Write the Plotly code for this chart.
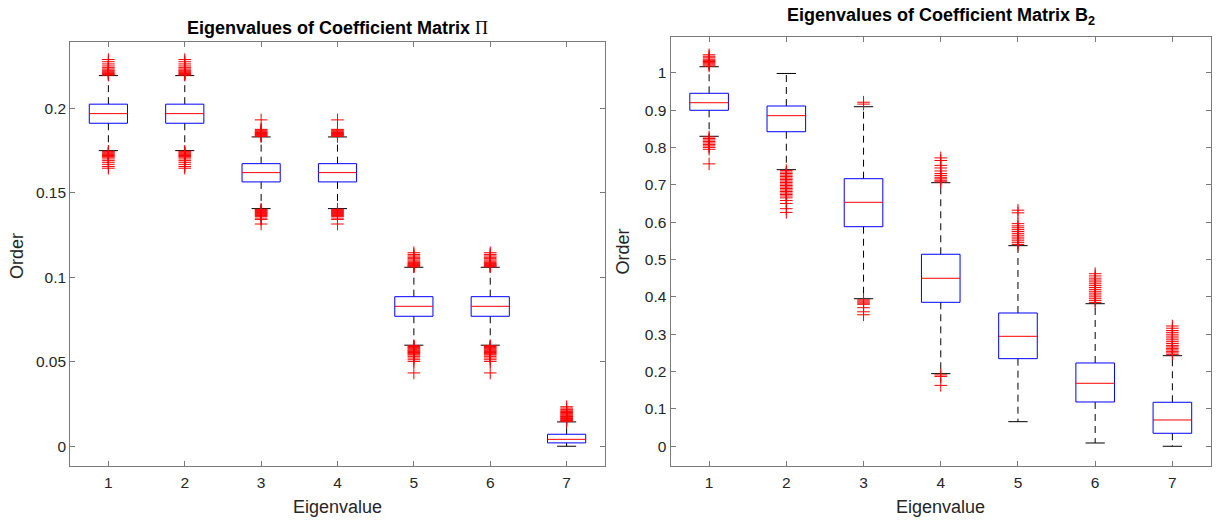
import plotly.graph_objects as go

# ---------------- data ----------------
categories = [1, 2, 3, 4, 5, 6, 7]
tick_labels = ["1", "2", "3", "4", "5", "6", "7"]

# Coefficient matrix Pi
pi_q1 = [0.1911, 0.1911, 0.1564, 0.1564, 0.0769, 0.0769, 0.0020]
pi_med = [0.1968, 0.1968, 0.1619, 0.1619, 0.0828, 0.0828, 0.0041]
pi_q3 = [0.2024, 0.2024, 0.1672, 0.1672, 0.0885, 0.0885, 0.0071]
pi_lo = [0.1749, 0.1749, 0.1406, 0.1406, 0.0598, 0.0598, 0.0000]
pi_hi = [0.2193, 0.2193, 0.1830, 0.1830, 0.1059, 0.1059, 0.0144]
pi_out_hi = [
    [0.2196, 0.2200, 0.2205, 0.2210, 0.2215, 0.2220, 0.2225, 0.2232, 0.2240, 0.2250, 0.2262, 0.2275, 0.2288],
    [0.2196, 0.2200, 0.2205, 0.2210, 0.2215, 0.2220, 0.2225, 0.2232, 0.2240, 0.2250, 0.2262, 0.2275, 0.2288],
    [0.1833, 0.1836, 0.1840, 0.1843, 0.1846, 0.1850, 0.1853, 0.1857, 0.1860, 0.1865, 0.1870, 0.1875, 0.1931],
    [0.1833, 0.1836, 0.1840, 0.1843, 0.1846, 0.1850, 0.1853, 0.1857, 0.1860, 0.1865, 0.1870, 0.1875, 0.1931],
    [0.1062, 0.1066, 0.1070, 0.1074, 0.1078, 0.1082, 0.1088, 0.1095, 0.1102, 0.1110, 0.1118, 0.1126, 0.1135, 0.1145],
    [0.1062, 0.1066, 0.1070, 0.1074, 0.1078, 0.1082, 0.1088, 0.1095, 0.1102, 0.1110, 0.1118, 0.1126, 0.1135, 0.1145],
    [0.0148, 0.0152, 0.0156, 0.0160, 0.0164, 0.0168, 0.0172, 0.0176, 0.0180, 0.0185, 0.0190, 0.0195, 0.0200, 0.0205, 0.0210, 0.0218, 0.0226, 0.0234],
]
pi_out_lo = [
    [0.1745, 0.1740, 0.1735, 0.1730, 0.1725, 0.1720, 0.1715, 0.1710, 0.1700, 0.1690, 0.1680, 0.1668, 0.1655, 0.1645],
    [0.1745, 0.1740, 0.1735, 0.1730, 0.1725, 0.1720, 0.1715, 0.1710, 0.1700, 0.1690, 0.1680, 0.1668, 0.1655, 0.1645],
    [0.1402, 0.1398, 0.1394, 0.1390, 0.1386, 0.1382, 0.1378, 0.1374, 0.1370, 0.1365, 0.1360, 0.1350, 0.1342, 0.1315],
    [0.1402, 0.1398, 0.1394, 0.1390, 0.1386, 0.1382, 0.1378, 0.1374, 0.1370, 0.1365, 0.1360, 0.1350, 0.1342, 0.1315],
    [0.0595, 0.0590, 0.0585, 0.0580, 0.0575, 0.0570, 0.0565, 0.0560, 0.0555, 0.0550, 0.0545, 0.0540, 0.0532, 0.0522, 0.0512, 0.0502, 0.0434],
    [0.0595, 0.0590, 0.0585, 0.0580, 0.0575, 0.0570, 0.0565, 0.0560, 0.0555, 0.0550, 0.0545, 0.0540, 0.0532, 0.0522, 0.0512, 0.0502, 0.0434],
    [],
]

# Coefficient matrix B2
b2_q1 = [0.8994, 0.8420, 0.5878, 0.3854, 0.2345, 0.1186, 0.0348]
b2_med = [0.9197, 0.8850, 0.6531, 0.4497, 0.2944, 0.1686, 0.0704]
b2_q3 = [0.9449, 0.9109, 0.7163, 0.5140, 0.3568, 0.2230, 0.1178]
b2_lo = [0.8298, 0.7404, 0.3950, 0.1944, 0.0659, 0.0088, 0.0000]
b2_hi = [1.0160, 0.9980, 0.9090, 0.7056, 0.5370, 0.3817, 0.2425]
b2_out_hi = [
    [1.018, 1.021, 1.024, 1.027, 1.030, 1.033, 1.036, 1.040, 1.044, 1.048],
    [],
    [0.916, 0.921],
    [0.708, 0.712, 0.716, 0.720, 0.725, 0.730, 0.737, 0.745, 0.752, 0.765, 0.772],
    [0.540, 0.545, 0.550, 0.555, 0.560, 0.565, 0.570, 0.575, 0.580, 0.585, 0.590, 0.596, 0.625, 0.632],
    [0.385, 0.390, 0.395, 0.400, 0.405, 0.410, 0.415, 0.420, 0.425, 0.430, 0.435, 0.440, 0.445, 0.450, 0.456, 0.462],
    [0.246, 0.250, 0.254, 0.258, 0.262, 0.266, 0.270, 0.275, 0.280, 0.285, 0.290, 0.295, 0.300, 0.305, 0.310, 0.316, 0.322],
]
b2_out_lo = [
    [0.828, 0.824, 0.820, 0.816, 0.812, 0.808, 0.804, 0.800, 0.795, 0.756],
    [0.738, 0.734, 0.730, 0.726, 0.722, 0.718, 0.714, 0.710, 0.706, 0.702, 0.698, 0.694, 0.690,
     0.686, 0.682, 0.678, 0.674, 0.670, 0.665, 0.658, 0.650, 0.636, 0.626],
    [0.392, 0.389, 0.386, 0.383, 0.380, 0.371, 0.360, 0.352],
    [0.191, 0.187, 0.163],
    [],
    [],
    [],
]

# ---------------- style ----------------
FONT = "Liberation Sans, Arial, Helvetica, sans-serif"
AX_COL = "#7a7a7a"
TXT_COL = "#262626"
BOX_W = 0.25   # half width of box
CAP_W = 0.125  # half width of whisker cap

W, H = 1225, 521


def px_x(p):
    return p / W


def px_y(p):
    return (H - p) / H


fig = go.Figure()


def add_boxes(xa, ya, q1, med, q3, lo, hi, out_hi, out_lo):
    wx, wy = [], []
    cx, cy = [], []
    bx, by = [], []
    mx, my = [], []
    ox, oy = [], []
    for i, c in enumerate(categories):
        wx += [c, c, None, c, c, None]
        wy += [q3[i], hi[i], None, q1[i], lo[i], None]
        cx += [c - CAP_W, c + CAP_W, None, c - CAP_W, c + CAP_W, None]
        cy += [hi[i], hi[i], None, lo[i], lo[i], None]
        bx += [c - BOX_W, c + BOX_W, c + BOX_W, c - BOX_W, c - BOX_W, None]
        by += [q1[i], q1[i], q3[i], q3[i], q1[i], None]
        mx += [c - BOX_W, c + BOX_W, None]
        my += [med[i], med[i], None]
        for v in out_hi[i] + out_lo[i]:
            ox.append(c)
            oy.append(v)
    common = dict(xaxis=xa, yaxis=ya, mode="lines", showlegend=False, hoverinfo="skip")
    fig.add_trace(go.Scatter(x=wx, y=wy, line=dict(color="black", width=1, dash="7px,5px"), **common))
    fig.add_trace(go.Scatter(x=cx, y=cy, line=dict(color="black", width=1), **common))
    fig.add_trace(go.Scatter(x=bx, y=by, line=dict(color="blue", width=1), **common))
    fig.add_trace(go.Scatter(x=mx, y=my, line=dict(color="red", width=1), **common))
    fig.add_trace(go.Scatter(
        x=ox, y=oy, xaxis=xa, yaxis=ya, mode="markers", showlegend=False, hoverinfo="skip",
        marker=dict(symbol="cross-thin", size=9, line=dict(color="red", width=1), color="red"),
    ))


add_boxes("x", "y", pi_q1, pi_med, pi_q3, pi_lo, pi_hi, pi_out_hi, pi_out_lo)
add_boxes("x2", "y2", b2_q1, b2_med, b2_q3, b2_lo, b2_hi, b2_out_hi, b2_out_lo)

axis_common = dict(
    showgrid=False, zeroline=False, showline=True, linecolor=AX_COL, linewidth=1,
    mirror="ticks", ticks="inside", ticklen=5, tickcolor=AX_COL, tickwidth=1,
    tickfont=dict(family=FONT, size=15.5, color=TXT_COL),
)

L1, R1, T1, B1 = 70.2, 604.8, 42.3, 465.7
L2, R2, T2, B2 = 670.5, 1211.0, 36.7, 465.7

fig.update_layout(
    width=W, height=H, margin=dict(l=0, r=0, t=0, b=0),
    plot_bgcolor="white", paper_bgcolor="white",
    xaxis=dict(domain=[px_x(L1), px_x(R1)], range=[0.5, 7.5], anchor="y",
               tickvals=categories, ticktext=tick_labels, ticklabelstandoff=3, **axis_common),
    yaxis=dict(domain=[px_y(B1), px_y(T1)], range=[-0.0115, 0.239], anchor="x",
               tickvals=[0, 0.05, 0.1, 0.15, 0.2], ticktext=["0", "0.05", "0.1", "0.15", "0.2"],
               **axis_common),
    xaxis2=dict(domain=[px_x(L2), px_x(R2)], range=[0.5, 7.5], anchor="y2",
                tickvals=categories, ticktext=tick_labels, ticklabelstandoff=3, **axis_common),
    yaxis2=dict(domain=[px_y(B2), px_y(T2)], range=[-0.052, 1.0964], anchor="x2",
                tickvals=[0, 0.1, 0.2, 0.3, 0.4, 0.5, 0.6, 0.7, 0.8, 0.9, 1.0],
                ticktext=["0", "0.1", "0.2", "0.3", "0.4", "0.5", "0.6", "0.7", "0.8", "0.9", "1"],
                **axis_common),
)

ann = []
# titles
ann.append(dict(
    text="<b>Eigenvalues of Coefficient Matrix </b><span style=\"font-family:'Liberation Serif',serif;font-weight:normal\">\u03A0</span>",
    x=px_x((L1 + R1) / 2), y=px_y(27.5), xref="paper", yref="paper",
    xanchor="center", yanchor="middle", showarrow=False,
    font=dict(family=FONT, size=18, color="black"),
))
ann.append(dict(
    text="<b>Eigenvalues of Coefficient Matrix B<sub>2</sub></b>",
    x=px_x((L2 + R2) / 2), y=px_y(3), xref="paper", yref="paper",
    xanchor="center", yanchor="top", showarrow=False,
    font=dict(family=FONT, size=18, color="black"),
))
# x axis labels
for cx in [(L1 + R1) / 2, (L2 + R2) / 2]:
    ann.append(dict(
        text="Eigenvalue", x=px_x(cx), y=px_y(507), xref="paper", yref="paper",
        xanchor="center", yanchor="middle", showarrow=False,
        font=dict(family=FONT, size=18, color=TXT_COL),
    ))
# y axis labels
for xx, yy in [(17, 256), (623, 251.5)]:
    ann.append(dict(
        text="Order", x=px_x(xx), y=px_y(yy), xref="paper", yref="paper",
        xanchor="center", yanchor="middle", textangle=-90, showarrow=False,
        font=dict(family=FONT, size=18, color=TXT_COL),
    ))
fig.update_layout(annotations=ann)

fig.write_html("out.html")
